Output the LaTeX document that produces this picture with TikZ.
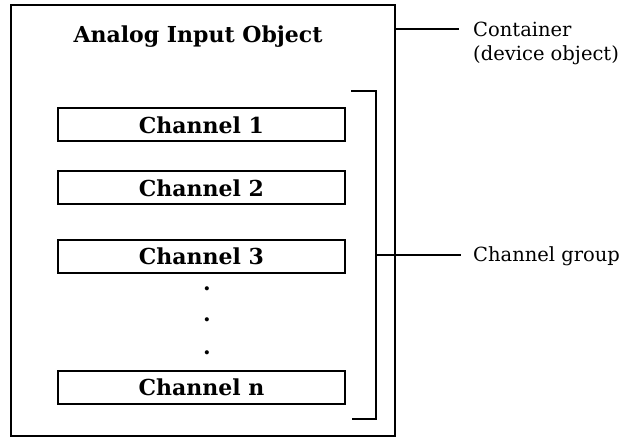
\documentclass[tikz,border=0pt]{standalone}
\usepackage{fontspec}
\setmainfont{DejaVu Serif}
\begin{document}
\begin{tikzpicture}[x=1pt,y=-1pt,
  frame/.style={draw,line width=2pt,inner sep=0pt},
  chbox/.style={draw,line width=2pt,minimum width=287pt,minimum height=33pt,inner sep=0pt,font=\fontsize{22}{26}\selectfont\bfseries},
  title/.style={font=\fontsize{22}{26}\selectfont\bfseries,inner sep=0pt},
  lbl/.style={font=\fontsize{19.5}{24}\selectfont,inner sep=0pt,align=left},
  dotnode/.style={font=\fontsize{22}{26}\selectfont\bfseries,inner sep=0pt},
  conn/.style={line width=2pt}]
\useasboundingbox (0,0) rectangle (631,438);
\node[frame,minimum width=384pt,minimum height=431pt] (outer) at (203,220.5) {};
\node[title,anchor=base] (ttl) at (198,43) {Analog Input Object};
\node[chbox] (c1) at (201.5,125) {Channel 1};
\node[chbox] (c2) at (201.5,188) {Channel 2};
\node[chbox] (c3) at (201.5,256) {Channel 3};
\node[chbox] (cn) at (201.5,387) {Channel n};
\node[dotnode,anchor=base] (d1) at (207,290) {.};
\node[dotnode,anchor=base] (d2) at (207,321) {.};
\node[dotnode,anchor=base] (d3) at (207,354) {.};
\coordinate (bt) at (351,91);
\coordinate (btr) at (375.5,91);
\coordinate (bbr) at (375.5,419);
\coordinate (bb) at (352,419);
\draw[conn] (bt) -- (btr) -- (bbr) -- (bb);
\coordinate (bmid) at (375.5,255);
\node[lbl,anchor=west] (grp) at (473,256) {Channel group};
\coordinate (ge) at (461,255);
\draw[conn] (bmid) -- (ge);
\node[lbl,anchor=north west] (cont) at (473,22) {Container\\(device object)};
\coordinate (oc) at (395,29);
\coordinate (oce) at (459,29);
\draw[conn] (oc) -- (oce);
\end{tikzpicture}
\end{document}
